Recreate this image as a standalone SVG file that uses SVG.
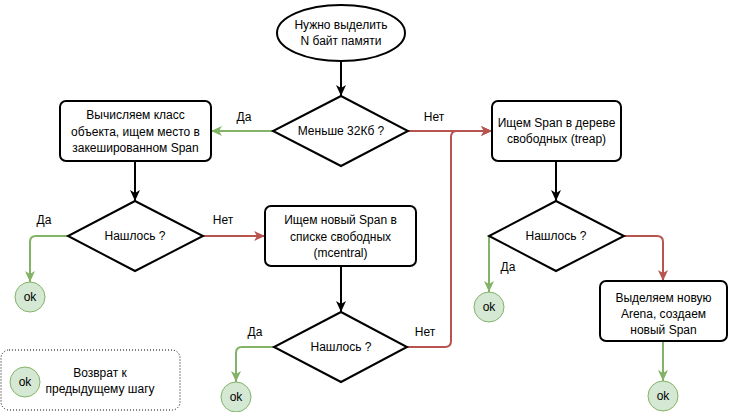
<svg xmlns="http://www.w3.org/2000/svg" width="729" height="412" viewBox="0 0 729 412">
<style>
text{font-family:"Liberation Sans",Arial,sans-serif;font-size:12px;fill:#000;text-anchor:middle}
.lbl{font-size:12px}
.node{fill:#fff;stroke:#000;stroke-width:2}
.ok{fill:#d5e8d4;stroke:#82b366;stroke-width:1}
.e{fill:none;stroke-width:2}
.k{stroke:#000;marker-end:url(#ak)}
.g{stroke:#82b366;marker-end:url(#ag)}
.r{stroke:#b85450;marker-end:url(#ar)}
</style>
<defs>
<marker id="ak" markerUnits="userSpaceOnUse" markerWidth="12" markerHeight="10" refX="11" refY="5" orient="auto"><path d="M0,0 L11,5 L0,10 L3,5 Z" fill="#000"/></marker>
<marker id="ag" markerUnits="userSpaceOnUse" markerWidth="12" markerHeight="10" refX="11" refY="5" orient="auto"><path d="M0,0 L11,5 L0,10 L3,5 Z" fill="#82b366"/></marker>
<marker id="ar" markerUnits="userSpaceOnUse" markerWidth="12" markerHeight="10" refX="11" refY="5" orient="auto"><path d="M0,0 L11,5 L0,10 L3,5 Z" fill="#b85450"/></marker>
</defs>
<rect width="729" height="412" fill="#fff"/>
<g id="connectors">
<path class="e k" d="M341,61 L341,96"/>
<path class="e g" d="M273,131 L211,131"/>
<path class="e r" d="M408,131 L492,131"/>
<path class="e r" d="M407,347 L445,347 Q451,347 451,341 L451,137 Q451,131 457,131 L492,131"/>
<path class="e k" d="M135,161 L135,201"/>
<path class="e g" d="M68,236 L36,236 Q30,236 30,242 L30,282"/>
<path class="e r" d="M203,236 L265,236"/>
<path class="e k" d="M341,266 L341,312"/>
<path class="e g" d="M274,347 L242,347 Q236,347 236,353 L236,382"/>
<path class="e k" d="M556,161 L556,201"/>
<path class="e g" d="M489,236 L489,292"/>
<path class="e r" d="M624,236 L657,236 Q663,236 663,242 L663,281"/>
<path class="e g" d="M663,341 L663,381"/>
<text class="lbl" x="244" y="121">Да</text>
<text class="lbl" x="434" y="121">Нет</text>
<text class="lbl" x="44" y="224">Да</text>
<text class="lbl" x="223" y="224">Нет</text>
<text class="lbl" x="255" y="336">Да</text>
<text class="lbl" x="425" y="336">Нет</text>
<text class="lbl" x="508" y="271">Да</text>
</g>
<g id="start">
<ellipse class="node" cx="341" cy="33" rx="64" ry="28"/>
<text x="341" y="29">Нужно выделить</text>
<text x="341" y="45">N байт памяти</text>
</g>
<g id="d1">
<path class="node" d="M341,96 L408,131 L341,166 L273,131 Z"/>
<text x="341" y="135">Меньше 32Кб ?</text>
</g>
<g id="b1">
<rect class="node" x="60" y="101" width="151" height="60" rx="6"/>
<text x="135.5" y="119">Вычисляем класс</text>
<text x="135.5" y="136">объекта, ищем место в</text>
<text x="135.5" y="152">закешированном Span</text>
</g>
<g id="b3">
<rect class="node" x="492" y="101" width="129" height="60" rx="6"/>
<text x="556.5" y="127">Ищем Span в дереве</text>
<text x="556.5" y="143">свободных (treap)</text>
</g>
<g id="d2">
<path class="node" d="M135,201 L203,236 L135,271 L68,236 Z"/>
<text x="135" y="240">Нашлось ?</text>
</g>
<g id="ok1">
<circle class="ok" cx="30" cy="297" r="15"/>
<text x="30" y="301">ok</text>
</g>
<g id="b2">
<rect class="node" x="265" y="206" width="151" height="60" rx="6"/>
<text x="340.5" y="224">Ищем новый Span в</text>
<text x="340.5" y="241">списке свободных</text>
<text x="340.5" y="257">(mcentral)</text>
</g>
<g id="d3">
<path class="node" d="M341,312 L407,347 L341,382 L274,347 Z"/>
<text x="341" y="351">Нашлось ?</text>
</g>
<g id="ok2">
<circle class="ok" cx="236" cy="397" r="15"/>
<text x="236" y="401">ok</text>
</g>
<g id="d4">
<path class="node" d="M556,201 L624,236 L556,271 L489,236 Z"/>
<text x="556" y="240">Нашлось ?</text>
</g>
<g id="ok3">
<circle class="ok" cx="489" cy="307" r="15"/>
<text x="489" y="311">ok</text>
</g>
<g id="b4">
<rect class="node" x="600" y="281" width="127" height="60" rx="6"/>
<text x="663.5" y="302">Выделяем новую</text>
<text x="663.5" y="318">Arena, создаем</text>
<text x="663.5" y="334">новый Span</text>
</g>
<g id="ok4">
<circle class="ok" cx="663" cy="396" r="15"/>
<text x="663" y="400">ok</text>
</g>
<g id="legend">
<rect x="1" y="350" width="179" height="60" rx="8" fill="#fff" stroke="#000" stroke-width="1" stroke-dasharray="1,2"/>
<circle class="ok" cx="25" cy="382" r="15"/>
<text x="25" y="386">ok</text>
<text x="100" y="377">Возврат к</text>
<text x="100" y="393">предыдущему шагу</text>
</g>
</svg>
